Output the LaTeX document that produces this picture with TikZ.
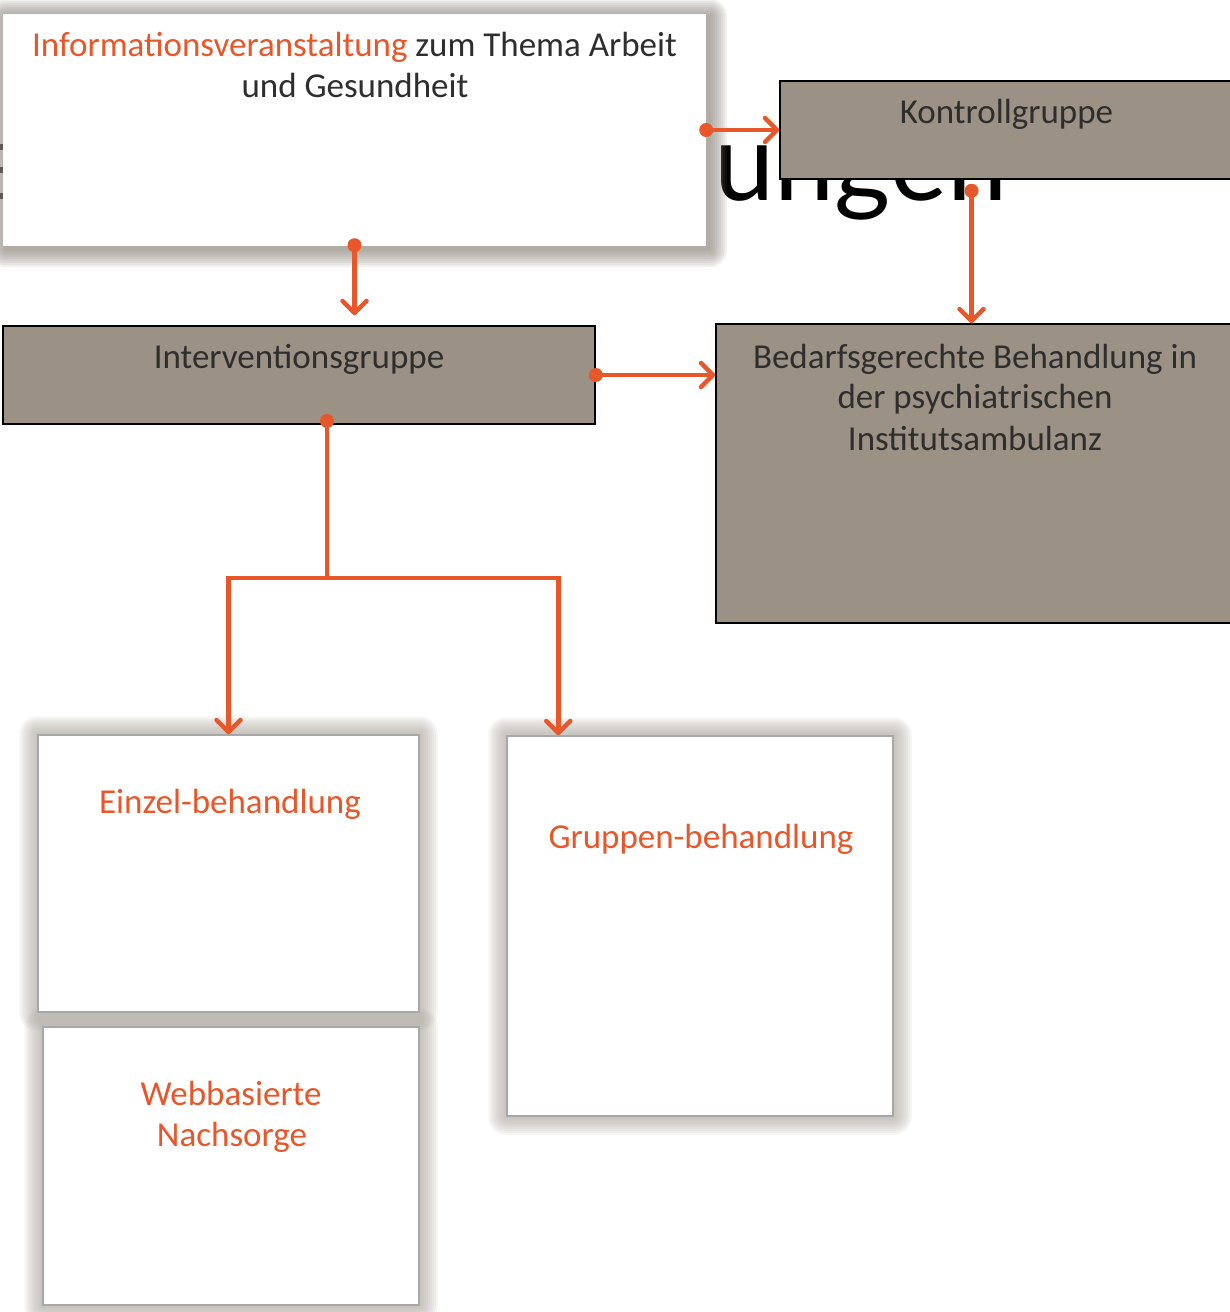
\documentclass[tikz,border=0pt]{standalone}
\usepackage{graphicx}
\usepackage{fontspec}
\setmainfont{Carlito}
\newfontfamily\bgfont{Lato}
\usetikzlibrary{arrows.meta,calc}
\definecolor{orng}{HTML}{E8572A}
\definecolor{taupe}{HTML}{9B9285}
\definecolor{txtc}{HTML}{2E2E2E}
\definecolor{shadA}{HTML}{857E75}
\definecolor{shadB}{HTML}{ADA79F}
\definecolor{wborder}{HTML}{A8A8A8}
\pgfdeclarelayer{paper}
\pgfdeclarelayer{bottom}
\pgfdeclarelayer{shadow}
\pgfsetlayers{paper,bottom,shadow,main}
\tikzset{
  box/.style={rectangle, draw=black, line width=1.5pt, fill=taupe, inner sep=0pt},
  wbox/.style={rectangle, draw=wborder, line width=1.5pt, fill=white, inner sep=0pt},
  ibox/.style={rectangle, draw=none, fill=white, inner sep=0pt},
  lbl/.style={anchor=base, inner sep=0pt, text=txtc, font=\fontsize{35}{42}\selectfont},
  olbl/.style={lbl, text=orng},
  arr/.style={draw=orng, line width=4.5pt, -{Straight Barb[length=12pt,width=24pt,round]}},
  ln/.style={draw=orng, line width=4.5pt},
  dot/.style={fill=orng},
}
\newcommand\softshadow[4]{%
  \begin{pgfonlayer}{shadow}
  \foreach \e in {2,4,...,18}{
    \fill[#2, opacity=0.1, rounded corners=\e pt]
      ($(#1.south west)+(-\e+#3,\e+#4)$) rectangle ($(#1.north east)+(\e+#3,-\e+#4)$);
  }
  \end{pgfonlayer}}
\begin{document}
\begin{tikzpicture}[x=1pt,y=-1pt]
\useasboundingbox (0,0) rectangle (1230,1312);
\clip (0,0) rectangle (1230,1312);
\begin{pgfonlayer}{paper}
\fill[white] (0,0) rectangle (1230,1312);
\end{pgfonlayer}

% background title fragments
\begin{pgfonlayer}{bottom}
\node[anchor=base west, inner sep=0pt, text=black, font=\bgfont\fontsize{108}{108}\selectfont] (bgword) at (714,200) {ungen};
\fill[black!80] (0,144) rectangle (3,150);
\fill[black!80] (0,167) rectangle (3,173);
\fill[black!80] (0,193) rectangle (3,199);
\end{pgfonlayer}

% boxes
\node[ibox, minimum width=703pt, minimum height=232pt] (info) at (354.5,130) {};
\node[box, minimum width=455pt, minimum height=98pt] (kontroll) at (1007.5,130) {};
\node[box, minimum width=592pt, minimum height=98pt] (interv) at (299,375) {};
\node[box, minimum width=519pt, minimum height=299pt] (bedarf) at (975.5,473.5) {};
\node[wbox, minimum width=381pt, minimum height=277pt] (einzel) at (228.5,873.5) {};
\node[wbox, minimum width=376pt, minimum height=278pt] (web) at (231,1166) {};
\node[wbox, minimum width=386pt, minimum height=380pt] (gruppen) at (700,926) {};

\softshadow{info}{shadA}{3}{3}
\softshadow{einzel}{shadB}{0}{0}
\softshadow{web}{shadB}{0}{0}
\softshadow{gruppen}{shadB}{0}{0}

% labels
\node[lbl] (info-l1) at (354.5,56) {{\color{orng}Informationsveranstaltung} zum Thema Arbeit};
\node[lbl] (info-l2) at (355,97) {und Gesundheit};
\node[lbl] (kontroll-l) at (1006.5,123) {Kontrollgruppe};
\node[lbl] (interv-l) at (299,368) {Interventionsgruppe};
\node[lbl] (bedarf-l1) at (975,368) {Bedarfsgerechte Behandlung in};
\node[lbl] (bedarf-l2) at (975,408) {der psychiatrischen};
\node[lbl] (bedarf-l3) at (975,450) {Institutsambulanz};
\node[olbl] (einzel-l) at (230,813) {Einzel-behandlung};
\node[olbl] (web-l1) at (231,1105) {Webbasierte};
\node[olbl] (web-l2) at (232,1146) {Nachsorge};
\node[olbl] (gruppen-l) at (701,848) {Gruppen-behandlung};

% connector points
\coordinate (i0) at ($(info.south)+(0,-1)$);
\coordinate (i1) at ($(info.south |- interv.north)+(0,-10)$);
\coordinate (k0) at ($(bedarf.north |- kontroll.south)+(-4,11)$);
\coordinate (k1) at (k0 |- bedarf.north);
\coordinate (t0) at (327,421);
\coordinate (tj) at (327,578);
\coordinate (gin) at ($(gruppen.north west)+(52,0)$);

% connectors
\draw[arr] (info.east) -- (kontroll.west);
\draw[arr] (i0) -- (i1);
\draw[arr] (k0) -- (k1);
\draw[arr] (interv.east) -- (interv.east -| bedarf.west);
\draw[ln] (t0) -- (tj);
\draw[arr] (tj) -| (einzel.north);
\draw[arr] (tj) -| (gin);

% dots
\fill[dot] (info.east) circle[radius=7pt];
\fill[dot] (i0) circle[radius=7pt];
\fill[dot] (k0) circle[radius=7pt];
\fill[dot] (interv.east) circle[radius=7pt];
\fill[dot] (t0) circle[radius=7pt];
\end{tikzpicture}
\end{document}
